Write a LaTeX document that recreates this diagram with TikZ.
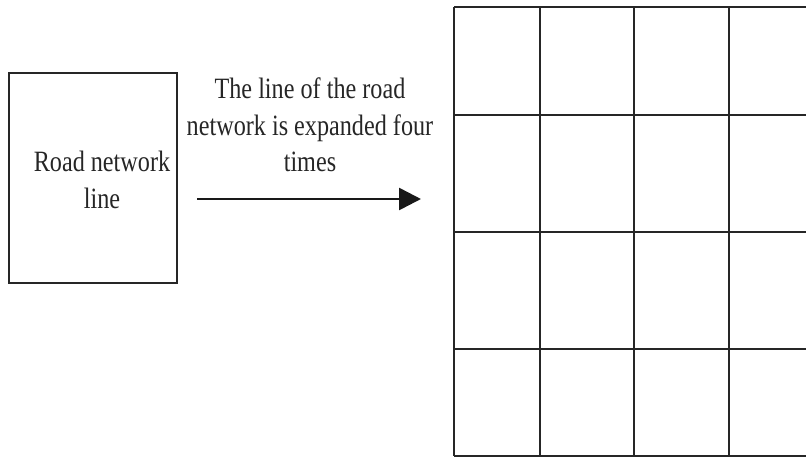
\documentclass[tikz,border=0pt]{standalone}
\usepackage{fontspec}
\setmainfont{Liberation Serif}[FakeStretch=0.82]
\usetikzlibrary{arrows.meta}
\begin{document}
\begin{tikzpicture}[x=1pt,y=-1pt,
  frame/.style={draw=black!85,line width=2.4pt},
  label/.style={align=center,font=\fontsize{29.5}{36.5}\selectfont,text=black!85,inner sep=0pt},
  flow/.style={draw=black!90,line width=2.6pt,-{Triangle[length=22pt,width=22pt]}}]
  \useasboundingbox (0,0) rectangle (806,459);
  % source box
  \draw[frame] (9,73) rectangle (177,283);
  \node[label] (src) at (102,180) {Road network\\line};
  % expansion arrow and caption
  \coordinate (a0) at (197,199);
  \coordinate (a1) at (421,199);
  \draw[flow] (a0) -- (a1);
  \node[label] (cap) at (310,125) {The line of the road\\network is expanded four\\times};
  % expanded grid, open on the right
  \foreach \x in {454,540,634,729} \draw[frame] (\x,7) -- (\x,456);
  \foreach \y in {7,115,232,349,456} \draw[frame] (454,\y) -- (810,\y);
\end{tikzpicture}
\end{document}
